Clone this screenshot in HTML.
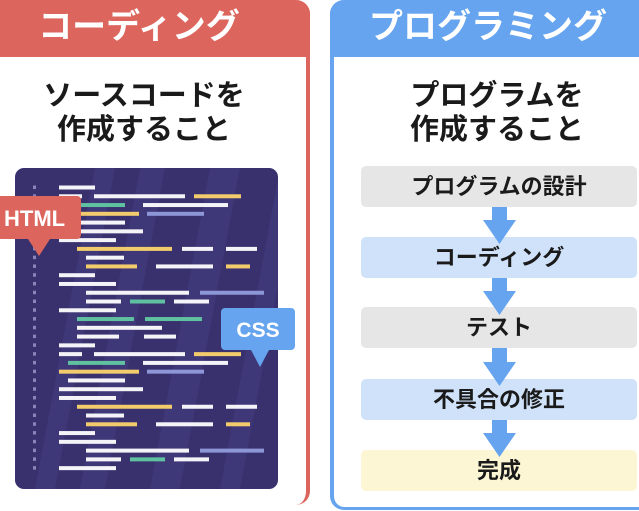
<!DOCTYPE html>
<html><head><meta charset="utf-8"><style>
body{margin:0;width:639px;height:511px;background:#fff;position:relative;overflow:hidden;font-family:"Liberation Sans","Noto Sans CJK JP",sans-serif}
.a{position:absolute}
.h{color:#fff;font-weight:bold;font-size:34px;text-align:center;line-height:55px}
.sub{font-weight:bold;font-size:29px;text-align:center;line-height:34px;color:#1a1a1a}
.box{position:absolute;left:361px;width:276px;height:41px;border-radius:5px;font-size:22px;font-weight:bold;text-align:center;line-height:41px;color:#1a1a1a}
</style></head><body>
<div class="a" style="left:-10px;top:0;width:320px;height:505px;border:0 solid #dc665d;border-right-width:4px;border-radius:0 14px 14px 0;box-sizing:border-box"></div>
<div class="a h" style="left:-10px;top:0;width:320px;height:57px;background:#dc665d;border-radius:0 14px 0 0;padding-left:0"><span style="position:relative;left:-11px">コーディング</span></div>
<div class="a sub" style="left:0;top:79px;width:288px">ソースコードを<br>作成すること</div>

<div class="a" style="left:330px;top:0;width:330px;height:510px;border:0 solid #66a4ef;border-left-width:4px;border-bottom-width:3px;border-radius:14px 0 0 14px;box-sizing:border-box"></div>
<div class="a h" style="left:330px;top:0;width:320px;height:57px;background:#66a4ef;border-radius:14px 0 0 0"><span style="position:relative;left:-2px">プログラミング</span></div>
<div class="a sub" style="left:350px;top:79px;width:294px">プログラムを<br>作成すること</div>

<div class="box" style="top:166px;background:#e6e6e6">プログラムの設計</div>
<div class="box" style="top:237px;background:#cfe2fa">コーディング</div>
<div class="box" style="top:307px;background:#e6e6e6">テスト</div>
<div class="box" style="top:379px;background:#cfe2fa">不具合の修正</div>
<div class="box" style="top:450px;background:#fdf6d4">完成</div>
<svg class="a" style="left:0;top:0" width="639" height="511">
<g fill="#66a4ef">
<path d="M492 207h15v13h9l-16.5 24l-16.5-24h9z"/>
<path d="M492 278h15v13h9l-16.5 24l-16.5-24h9z"/>
<path d="M492 348h15v14h9l-16.5 24l-16.5-24h9z"/>
<path d="M492 420h15v13h9l-16.5 24l-16.5-24h9z"/>
</g>
</svg>

<svg class="a" style="left:0;top:0" width="320" height="511">
<defs><clipPath id="c"><rect x="15" y="168" width="263" height="321" rx="9"/></clipPath></defs>
<g clip-path="url(#c)">
<rect x="15" y="168" width="263" height="321" fill="#38316d"/>
<g fill="#3f3878">
<polygon points="35,489 95,168 115,168 55,489"/>
<polygon points="80,489 140,168 165,168 105,489"/>
<polygon points="150,489 210,168 240,168 180,489"/>
<polygon points="220,489 280,168 300,168 240,489"/>
</g>
</g>
<g id="dots" fill="#8a84b8"></g>
<g id="bars"></g>
<path d="M0 196h77a4 4 0 0 1 4 4v35a4 4 0 0 1-4 4H50l-11 17-11-17H0z" fill="#dc665d"/>
<text x="4" y="226" font-family="Liberation Sans,sans-serif" font-weight="bold" font-size="22" fill="#fff">HTML</text>
<path d="M225 308h66a4 4 0 0 1 4 4v34a4 4 0 0 1-4 4h-22l-9 17-9-17h-26a4 4 0 0 1-4-4v-34a4 4 0 0 1 4-4z" fill="#66a4ef"/>
<text x="258" y="337" text-anchor="middle" font-family="Liberation Sans,sans-serif" font-weight="bold" font-size="21" fill="#fff">CSS</text>
</svg>
<script>
var W="#f4f4f8",Y="#f2cc6c",G="#5fc1a0",B="#8d96d6";
var rows=[
[[W,59,95]],
[[W,59,82],[W,94,185],[Y,194,241]],
[[G,68,125],[W,143,228]],
[[Y,68,139],[B,147,204]],
[[W,68,125]],
[[W,59,143]],
[[W,59,116]],
[[Y,77,172],[W,182,213],[W,226,257]],
[[W,86,124]],
[[Y,86,137],[W,156,213],[Y,226,250]],
[[W,59,95]],
[[W,59,116]],
[[W,86,189],[B,200,264]],
[[W,86,121],[G,130,165],[W,174,209]],
[[W,59,116]],
[[G,77,134],[G,145,202]],
[[W,77,162]],
[[W,77,119],[W,144,176]],
[[W,59,95]],
[[W,59,82],[W,94,185],[Y,194,241]],
[[G,68,125],[W,143,228]],
[[Y,59,139],[B,147,204]],
[[W,68,125]],
[[W,59,143]],
[[W,59,116]],
[[Y,77,172],[W,182,213],[W,226,257]],
[[W,86,124]],
[[Y,86,137],[W,156,213],[Y,226,250]],
[[W,59,95]],
[[W,59,116]],
[[W,86,189],[B,200,264]],
[[W,86,121],[G,130,165],[W,174,209]],
[[W,59,116]]];
var ns="http://www.w3.org/2000/svg",b=document.getElementById("bars"),d=document.getElementById("dots");
rows.forEach(function(r,i){var y=185.5+i*8.77;
var q=document.createElementNS(ns,"rect");q.setAttribute("x",33);q.setAttribute("y",y);q.setAttribute("width",3);q.setAttribute("height",3.5);d.appendChild(q);
r.forEach(function(s){var e=document.createElementNS(ns,"rect");e.setAttribute("x",s[1]);e.setAttribute("y",y);e.setAttribute("width",s[2]-s[1]);e.setAttribute("height",4);e.setAttribute("fill",s[0]);b.appendChild(e);});});
</script>
</body></html>
